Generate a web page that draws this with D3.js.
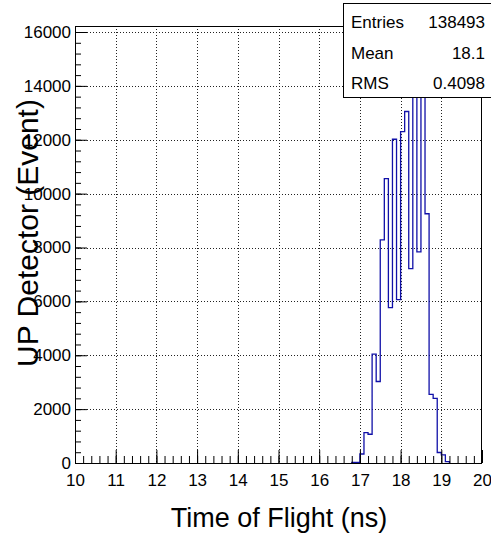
<!DOCTYPE html>
<html>
<head>
<meta charset="utf-8">
<script src="https://cdn.jsdelivr.net/npm/d3@7"></script>
<style>
  html, body { margin: 0; padding: 0; background: #fff; }
  svg { display: block; }
  text { font-family: "Liberation Sans", Arial, Helvetica, sans-serif; fill: #000; }
</style>
</head>
<body>
<div id="chart"></div>
<script>
// ---- data ----
const binWidth = 0.1;
const binLowEdges = [16.8, 16.9, 17.0, 17.1, 17.2, 17.3, 17.4, 17.5, 17.6, 17.7, 17.8, 17.9,
                     18.0, 18.1, 18.2, 18.3, 18.4, 18.5, 18.6, 18.7, 18.8, 18.9, 19.0, 19.1];
const binCounts   = [20, 20, 335, 1127, 1068, 4045, 3025, 8286, 10556, 5767, 12019, 6065,
                     12305, 13049, 7219, 15450, 7840, 15350, 9253, 2550, 2400, 390, 298, 50];
const xTickValues = [10, 11, 12, 13, 14, 15, 16, 17, 18, 19, 20];
const yTickValues = [0, 2000, 4000, 6000, 8000, 10000, 12000, 14000, 16000];
const statLabels  = ["Entries", "Mean", "RMS"];
const statValues  = ["138493", "18.1", "0.4098"];
const xTitle = "Time of Flight (ns)";
const yTitle = "UP Detector (Event)";
const xDomain = [10, 20];
const yDomain = [0, 16223];

// ---- layout ----
const W = 491, H = 536;
const m = { left: 75, right: 9, top: 26, bottom: 73 };
const iw = W - m.left - m.right, ih = H - m.top - m.bottom;

const svg = d3.select("#chart").append("svg").attr("width", W).attr("height", H);
const g = svg.append("g").attr("transform", `translate(${m.left},${m.top})`);

const x = d3.scaleLinear().domain(xDomain).range([0, iw]);
const y = d3.scaleLinear().domain(yDomain).range([ih, 0]);

// grid (dotted)
const grid = g.append("g").attr("stroke", "#222").attr("stroke-width", 1)
  .attr("stroke-dasharray", "1,2").attr("shape-rendering", "crispEdges");
grid.selectAll("line.gx").data(xTickValues.slice(1, -1)).join("line")
  .attr("x1", d => Math.round(x(d)) + 0.5).attr("x2", d => Math.round(x(d)) + 0.5)
  .attr("y1", 0).attr("y2", ih);
grid.selectAll("line.gy").data(yTickValues.slice(1)).join("line")
  .attr("y1", d => Math.round(y(d)) + 0.5).attr("y2", d => Math.round(y(d)) + 0.5)
  .attr("x1", 0).attr("x2", iw);

// histogram outline (empty bins lie on the axis and are hidden by it)
const pts = [[binLowEdges[0], 0]];
binLowEdges.forEach((lo, i) => {
  pts.push([lo, binCounts[i]]);
  pts.push([lo + binWidth, binCounts[i]]);
});
pts.push([binLowEdges[binLowEdges.length - 1] + binWidth, 0]);
const line = d3.line().x(d => x(d[0])).y(d => y(d[1]));
g.append("path").attr("d", line(pts)).attr("fill", "none")
  .attr("stroke", "#1010a8").attr("stroke-width", 1.3);

// axes (ROOT style: ticks inside)
const xAxis = d3.axisBottom(x).tickValues(xTickValues).tickSize(-13).tickPadding(16)
  .tickFormat(d3.format("d"));
const xMinor = d3.axisBottom(x).tickValues(d3.range(10, 20.001, 0.2)).tickSize(-7).tickFormat("");
const yAxis = d3.axisLeft(y).tickValues(yTickValues).tickSize(-12).tickPadding(16)
  .tickFormat(d3.format("d"));
const yMinor = d3.axisLeft(y).tickValues(d3.range(0, 16001, 400)).tickSize(-6).tickFormat("");

const gx = g.append("g").attr("transform", `translate(0,${ih})`).call(xAxis);
g.append("g").attr("transform", `translate(0,${ih})`).call(xMinor);
const gy = g.append("g").call(yAxis);
g.append("g").call(yMinor);
g.selectAll(".domain").remove();
g.selectAll(".tick line").attr("stroke", "#000").attr("stroke-width", 1);
gx.selectAll("text").attr("font-size", 17).attr("font-family", "Liberation Sans, Arial, sans-serif");
gy.selectAll("text").attr("font-size", 17).attr("font-family", "Liberation Sans, Arial, sans-serif")
  .attr("x", -4);
gx.selectAll("text").attr("y", 11);

// frame
g.append("rect").attr("x", 0.5).attr("y", 0.5).attr("width", iw - 1).attr("height", ih)
  .attr("fill", "none").attr("stroke", "#000").attr("stroke-width", 1);

// axis titles
svg.append("text").attr("x", 279).attr("y", 527).attr("text-anchor", "middle")
  .attr("font-size", 27).text(xTitle);
svg.append("text").attr("transform", "translate(38,233) rotate(-90)")
  .attr("text-anchor", "middle").attr("font-size", 30).text(yTitle);

// stats box
const sb = svg.append("g");
sb.append("rect").attr("x", 343.5).attr("y", 3.5).attr("width", 150).attr("height", 94)
  .attr("fill", "#fff").attr("stroke", "#000").attr("stroke-width", 1);
const rowY = [28, 59, 89];
sb.selectAll("text.lab").data(statLabels).join("text")
  .attr("x", 351).attr("y", (d, i) => rowY[i]).attr("font-size", 17).text(d => d);
sb.selectAll("text.val").data(statValues).join("text")
  .attr("x", 485).attr("y", (d, i) => rowY[i]).attr("text-anchor", "end")
  .attr("font-size", 17).text(d => d);
</script>
</body>
</html>
